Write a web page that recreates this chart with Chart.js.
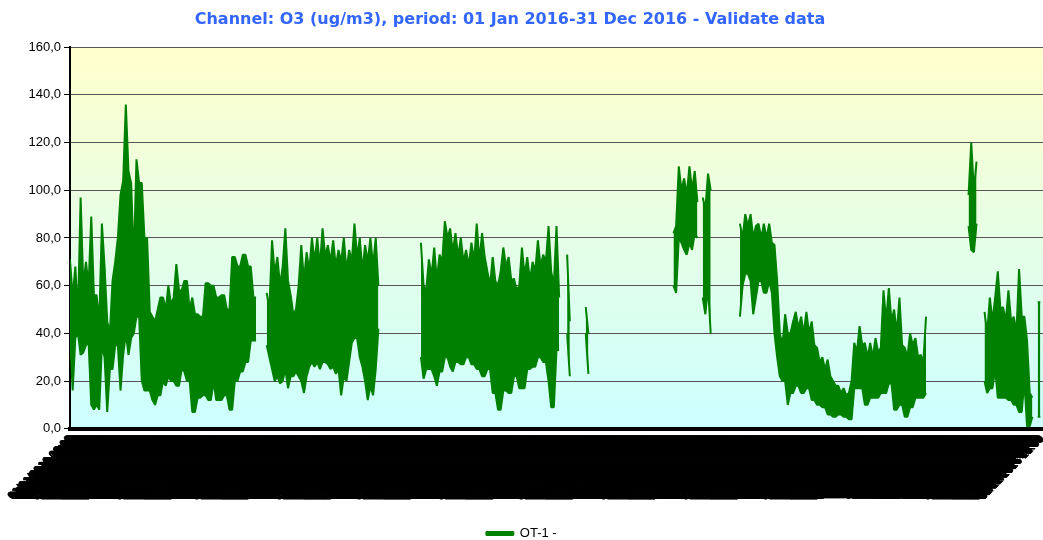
<!DOCTYPE html>
<html>
<head>
<meta charset="utf-8">
<script src="https://cdn.jsdelivr.net/npm/chart.js@4.4.0/dist/chart.umd.min.js"></script>
<style>
  html, body { margin: 0; padding: 0; background: #fff; }
  #wrap { width: 1043px; height: 540px; position: relative; }
</style>
</head>
<body>
<div id="wrap"><canvas id="chart"></canvas></div>
<script>
// O3 (ug/m3) in 2016: highest and lowest reading of each day, null = no data
const dailyHigh = [
  71, 55, 68, 48, 97, 60, 70, 60, 89, 56,
  56, 45, 86, 68, 45, 40, 62, 70, 80, 98,
  104, 136, 108, 103, 70, 113, 103, 103, 80, 80,
  49, 47, 45, 50, 55, 55, 50, 60, 52, 55,
  69, 58, 58, 62, 62, 50, 55, 48, 48, 47,
  47, 61, 61, 60, 60, 55, 55, 56, 56, 50,
  50, 72, 72, 68, 68, 73, 73, 68, 68, 55,
  55, null, null, null, 57, 50, 79, 65, 72, 60,
  68, 84, 62, 56, 48, 50, 60, 77, 62, 74,
  66, 80, 70, 80, 68, 84, 72, 77, 70, 79,
  68, 75, 70, 80, 66, 75, 70, 86, 72, 80,
  66, 77, 70, 80, 68, 80, 60, null, null, null,
  null, null, null, null, null, null, null, null, null, null,
  null, null, 78, 60, 58, 71, 64, 76, 62, 73,
  70, 87, 80, 84, 74, 82, 72, 80, 70, 75,
  68, 78, 70, 86, 70, 82, 72, 66, 60, 72,
  62, 60, 66, 76, 68, 72, 62, 63, 58, 60,
  76, 64, 72, 62, 70, 66, 79, 68, 73, 70,
  85, 66, 60, 85, 55, null, null, 73, 45, null,
  null, null, null, null, 51, 40, null, null, null, null,
  null, null, null, null, null, null, null, null, null, null,
  null, null, null, null, null, null, null, null, null, null,
  null, null, null, null, null, null, null, 82, 85, 110,
  100, 105, 98, 110, 100, 108, 95, null, 97, 92,
  107, 100, null, null, null, null, null, null, null, null,
  null, null, 86, 80, 90, 85, 90, 80, 85, 86,
  80, 86, 80, 86, 78, 77, 62, 40, 35, 48,
  40, 40, 45, 49, 42, 47, 40, 49, 40, 45,
  35, 34, 28, 30, 25, 29, 22, 20, 18, 18,
  15, 17, 14, 15, 20, 36, 32, 43, 35, 36,
  30, 36, 30, 38, 32, 34, 58, 45, 59, 45,
  50, 40, 55, 35, 34, 30, 40, 35, 38, 30,
  31, 28, 47, null, null, null, null, null, null, null,
  null, null, null, null, null, null, null, null, 98, 120,
  100, 112, null, null, 49, 40, 55, 45, 55, 66,
  50, 51, 45, 58, 45, 47, 40, 67, 47, 47,
  37, 15, 13, null, 53, 53
];

const dailyLow = [
  40, 16, 38, 40, 31, 32, 35, 36, 10, 8,
  10, 8, 35, 30, 7, 25, 25, 35, 35, 16,
  31, 40, 31, 38, 40, 47, 47, 20, 16, 16,
  16, 12, 10, 14, 14, 20, 18, 22, 20, 20,
  18, 18, 25, 24, 20, 20, 7, 7, 13, 13,
  14, 14, 12, 12, 20, 12, 12, 12, 14, 14,
  8, 8, 20, 20, 24, 24, 28, 28, 37, 37,
  37, null, null, null, 35, 30, 25, 20, 22, 19,
  20, 25, 17, 22, 22, 24, 22, 20, 15, 22,
  26, 28, 26, 28, 25, 28, 28, 27, 25, 26,
  23, 25, 14, 22, 20, 28, 36, 38, 38, 30,
  26, 20, 12, 18, 14, 25, 42, null, null, null,
  null, null, null, null, null, null, null, null, null, null,
  null, null, 30, 21, 25, 25, 25, 22, 18, 24,
  24, 30, 30, 26, 24, 28, 28, 27, 27, 30,
  30, 27, 27, 25, 25, 22, 22, 25, 25, 15,
  15, 8, 8, 16, 16, 15, 15, 22, 22, 17,
  17, 17, 25, 25, 26, 26, 30, 30, 28, 28,
  20, 9, 9, 33, 33, null, null, 40, 22, null,
  null, null, null, null, 40, 23, null, null, null, null,
  null, null, null, null, null, null, null, null, null, null,
  null, null, null, null, null, null, null, null, null, null,
  null, null, null, null, null, null, null, 60, 57, 80,
  78, 75, 73, 78, 75, 82, 80, null, 55, 48,
  60, 40, null, null, null, null, null, null, null, null,
  null, null, 47, 60, 65, 65, 62, 48, 55, 62,
  62, 57, 57, 62, 57, 40, 30, 22, 20, 20,
  10, 15, 15, 18, 18, 15, 15, 17, 17, 12,
  12, 10, 10, 9, 9, 6, 6, 5, 5, 6,
  6, 5, 5, 4, 4, 17, 17, 17, 17, 10,
  10, 13, 13, 13, 13, 15, 15, 15, 19, 19,
  8, 8, 10, 10, 5, 5, 9, 9, 13, 13,
  13, 13, 15, null, null, null, null, null, null, null,
  null, null, null, null, null, null, null, null, 85, 75,
  74, 86, null, null, 20, 15, 17, 17, 25, 13,
  13, 13, 13, 12, 12, 10, 10, 7, 7, 20,
  1, 1, 5, null, 5, 5
];

const seriesName = 'OT-1 -';
const yTicks = [0, 20, 40, 60, 80, 100, 120, 140, 160];
const daysInYear = 366;
const labelStepHours = 3;

// x tick labels: one timestamp every few hours over the year
const timeLabels = [];
const timeTickDays = [];
for (let h = 0; h < daysInYear * 24; h += labelStepHours) {
  const d = new Date(2016, 0, 1, h);
  const p = n => String(n).padStart(2, '0');
  timeLabels.push(p(d.getDate()) + '/' + p(d.getMonth() + 1) + '/' + d.getFullYear() + ' ' + p(d.getHours()) + ':00');
  timeTickDays.push(h / 24);
}

const highPoints = dailyHigh.map((v, i) => ({ x: i, y: v }));
const lowPoints = dailyLow.map((v, i) => ({ x: i, y: v }));

// yellow -> cyan background behind the plot, title nudged left like the original
const plotBackground = {
  id: 'plotBackground',
  afterLayout(chart) {
    chart.titleBlock.left = 0;
    chart.titleBlock.right = 1020;
  },
  beforeDraw(chart) {
    const { ctx, chartArea: a } = chart;
    const g = ctx.createLinearGradient(0, a.top, 0, a.bottom);
    g.addColorStop(0, '#ffffcc');
    g.addColorStop(0.5, '#e6ffe6');
    g.addColorStop(1, '#ccffff');
    ctx.save();
    ctx.fillStyle = g;
    ctx.fillRect(a.left, a.top, a.right - a.left, a.bottom - a.top);
    ctx.restore();
  }
};

const green = '#008000';

new Chart(document.getElementById('chart'), {
  type: 'line',
  data: {
    datasets: [{
      label: seriesName,
      data: highPoints,
      borderColor: green,
      backgroundColor: green,
      borderWidth: 2,
      borderJoinStyle: 'bevel',
      pointRadius: 0,
      tension: 0,
      spanGaps: false,
      fill: '+1'
    }, {
      label: 'low',
      data: lowPoints,
      borderColor: green,
      backgroundColor: green,
      borderWidth: 2,
      borderJoinStyle: 'bevel',
      pointRadius: 0,
      tension: 0,
      spanGaps: false,
      fill: false
    }]
  },
  options: {
    responsive: true,
    maintainAspectRatio: false,
    animation: false,
    events: [],
    layout: { padding: { left: 0, right: 0, top: 0, bottom: -10 } },
    plugins: {
      title: {
        display: true,
        text: 'Channel: O3 (ug/m3), period: 01 Jan 2016-31 Dec 2016 - Validate data',
        color: '#3366ff',
        font: { family: 'DejaVu Sans', size: 16, weight: 'bold' },
        padding: { top: 10, bottom: 18 }
      },
      legend: {
        position: 'bottom',
        labels: {
          color: '#000',
          font: { family: 'Liberation Sans', size: 13 },
          boxWidth: 27,
          boxHeight: 3,
          padding: 2,
          filter: item => item.datasetIndex === 0
        }
      },
      tooltip: { enabled: false }
    },
    scales: {
      x: {
        type: 'linear',
        min: 0,
        max: daysInYear,
        afterBuildTicks: axis => { axis.ticks = timeTickDays.map(v => ({ value: v })); },
        afterFit: axis => { axis.paddingRight = 0; },
        grid: { display: false, drawTicks: false },
        border: { display: true, color: '#000', width: 4 },
        title: { display: true, text: ' ', font: { size: 12 }, padding: { top: 2, bottom: 2 } },
        ticks: {
          autoSkip: false,
          minRotation: 45,
          maxRotation: 45,
          padding: 4,
          color: '#000',
          font: { family: 'Liberation Sans', size: 11 },
          callback: (v, i) => timeLabels[i]
        }
      },
      y: {
        min: 0,
        max: 160,
        afterBuildTicks: axis => { axis.ticks = yTicks.map(v => ({ value: v })); },
        afterFit: axis => { axis.width = 70; },
        grid: { color: '#555', lineWidth: 1, tickLength: 6, tickColor: '#000' },
        border: { display: true, color: '#000', width: 2 },
        ticks: {
          color: '#000',
          padding: 3,
          font: { family: 'Liberation Sans', size: 13 },
          callback: v => v.toFixed(1).replace('.', ',')
        }
      }
    }
  },
  plugins: [plotBackground]
});
</script>
</body>
</html>
